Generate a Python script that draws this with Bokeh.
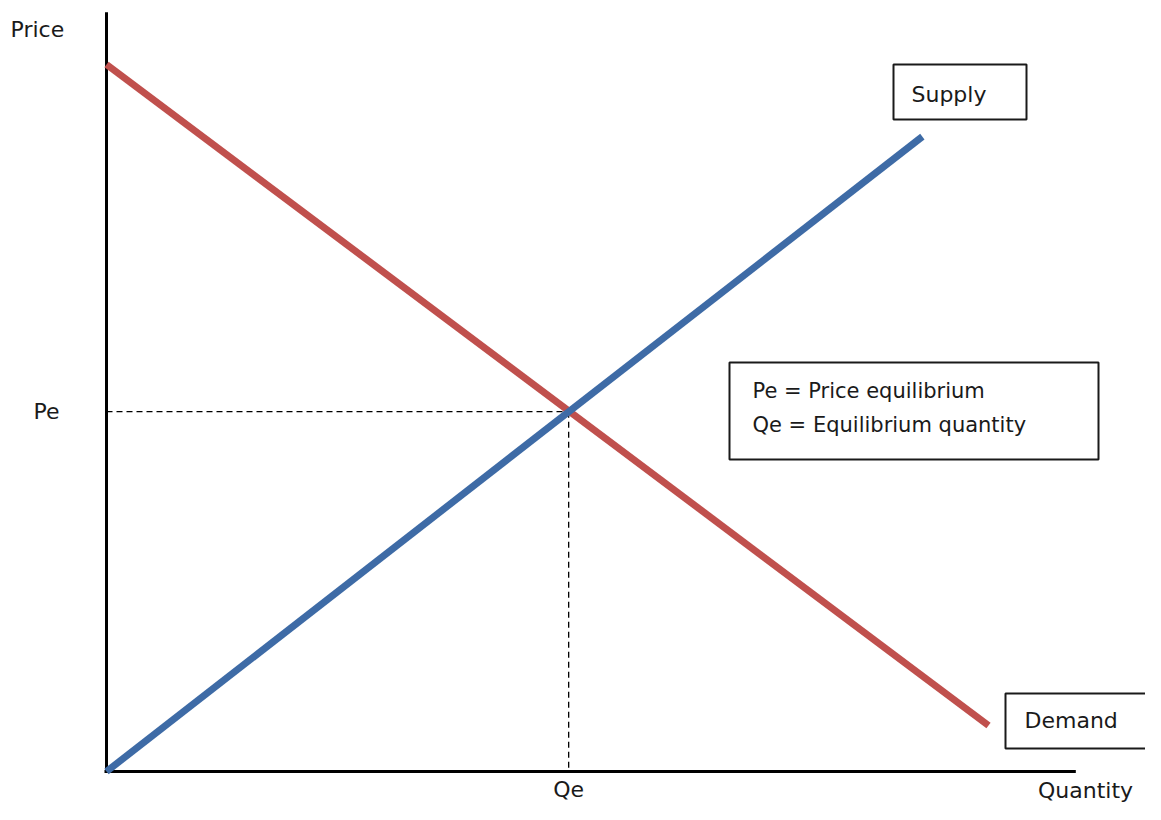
from bokeh.plotting import figure
from bokeh.models import Range1d
from bokeh.core.properties import value
from bokeh.embed import file_html
from bokeh.resources import INLINE

# ---- data (chart units) ----
quantity_demand = [0.0, 10.0]
price_demand = [10.0, 0.65]
quantity_supply = [0.0, 9.25]
price_supply = [0.0, 8.98]
q_eq = 5.24
p_eq = 5.09
axis_q_max = 10.99
axis_p_max = 10.74
curve_labels = ["Supply", "Demand"]
legend_lines = ["Pe = Price equilibrium", "Qe = Equilibrium quantity"]
axis_titles = ["Price", "Quantity"]
tick_labels = ["Pe", "Qe"]

# ---- layout ----
W, H = 1145, 804
X0, Y0 = 106, 771     # figure pixel of the origin (from top-left)
SX, SY = 88.2, 70.7   # pixels per unit


def qx(px):
    """figure x pixel -> quantity units"""
    return (px - X0) / SX


def py(px):
    """figure y pixel (from top) -> price units"""
    return (Y0 - px) / SY


p = figure(width=W, height=H,
           x_range=Range1d(-X0 / SX, (W - X0) / SX),
           y_range=Range1d(-(H - Y0) / SY, Y0 / SY),
           output_backend="svg", toolbar_location=None,
           x_axis_type=None, y_axis_type=None, min_border=0)
p.outline_line_color = None
p.background_fill_color = "white"
p.border_fill_color = "white"

FONT = value("DejaVu Sans")
TCOL = "#1a1a1a"

# dashed guides
p.line([0, q_eq], [p_eq, p_eq], line_color="black", line_width=1.3, line_dash="6 4")
p.line([q_eq, q_eq], [p_eq, 0], line_color="black", line_width=1.3, line_dash="6 4")

# axes
p.line([qx(104), axis_q_max], [0, 0], line_color="black", line_width=3)
p.line([0, 0], [0, axis_p_max], line_color="black", line_width=3)

# curves
p.line(quantity_demand, price_demand, line_color="#C0504D", line_width=7)
p.line(quantity_supply, price_supply, line_color="#3E6BA6", line_width=7)

# boxes
box_kw = dict(fill_color="white", line_color="#1a1a1a", line_width=2)
p.quad(left=[qx(893)], right=[qx(1026)], top=[py(64)], bottom=[py(119)], **box_kw)
p.quad(left=[qx(729)], right=[qx(1098)], top=[py(362)], bottom=[py(459)], **box_kw)
p.quad(left=[qx(1005)], right=[qx(1175)], top=[py(693)], bottom=[py(748)], **box_kw)

txt = dict(text_font=FONT, text_font_size="22px", text_color=TCOL, text_baseline="middle")

# axis titles
p.text(x=[qx(10)], y=[py(29)], text=[axis_titles[0]], text_align="left", **txt)
p.text(x=[qx(1085)], y=[py(790)], text=[axis_titles[1]], text_align="center", **txt)

# equilibrium tick labels
p.text(x=[qx(46)], y=[p_eq], text=[tick_labels[0]], text_align="center", **txt)
p.text(x=[q_eq], y=[py(789)], text=[tick_labels[1]], text_align="center", **txt)

# curve labels
p.text(x=[qx(911)], y=[py(94)], text=[curve_labels[0]], text_align="left", **txt)
p.text(x=[qx(1024)], y=[py(720)], text=[curve_labels[1]], text_align="left", **txt)

# legend text
p.text(x=[qx(752), qx(752)], y=[py(390), py(424)], text=legend_lines,
       text_align="left", **dict(txt, text_font_size="21px"))

open("out.html", "w").write(file_html(p, INLINE))
